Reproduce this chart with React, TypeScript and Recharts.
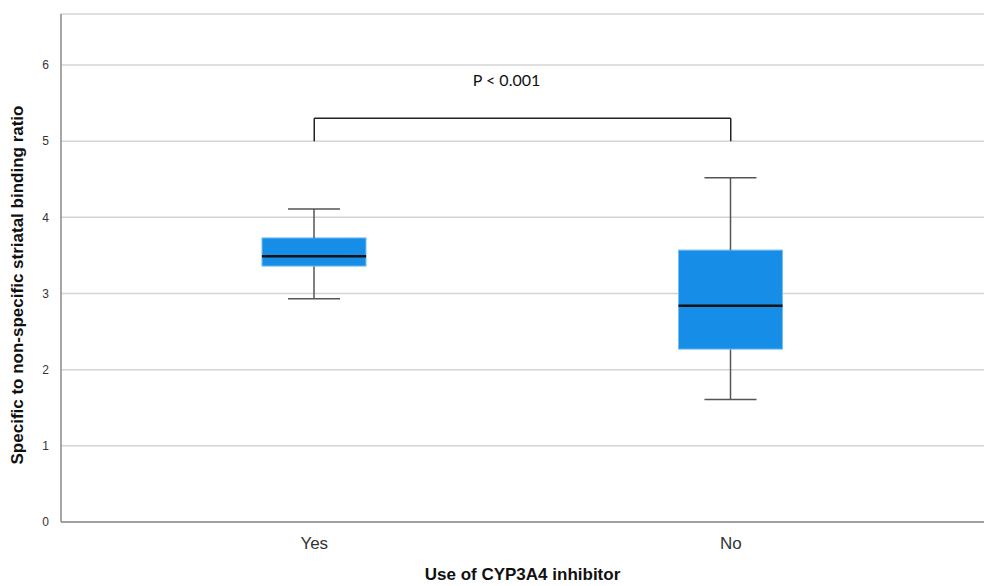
import { Bar, CartesianGrid, ComposedChart, ReferenceLine, XAxis, YAxis } from "recharts";

// box plot summary per group
const categories = ["Yes", "No"];
const whiskerLow = [2.93, 1.61];
const quartile1 = [3.36, 2.27];
const medians = [3.49, 2.84];
const quartile3 = [3.73, 3.57];
const whiskerHigh = [4.11, 4.52];

const yTicks = [0, 1, 2, 3, 4, 5, 6];
const bracketTop = 5.3;
const bracketFoot = 5.0;
const pLabel = "P < 0.001";

const BOX_FILL = "#168de6";
const BOX_EDGE = "#74bff2";
const WHISKER = "#555555";
const AXIS = "#8a8a8a";
const GRID = "#d4d4d4";
const FONT = "Liberation Sans, Arial, sans-serif";

// stacked pieces: invisible base, lower whisker, lower half box, upper half box, upper whisker
const data = categories.map((group, i) => ({
  group,
  base: whiskerLow[i],
  lowWhisker: quartile1[i] - whiskerLow[i],
  lowBox: medians[i] - quartile1[i],
  highBox: quartile3[i] - medians[i],
  highWhisker: whiskerHigh[i] - quartile3[i],
}));

const LowWhisker = (p: any) => {
  const cx = p.x + p.width / 2;
  const cap = p.width / 4;
  const bottom = p.y + p.height;
  return (
    <g>
      <line x1={cx} x2={cx} y1={p.y} y2={bottom} stroke={WHISKER} strokeWidth={1.5} />
      <line x1={cx - cap} x2={cx + cap} y1={bottom} y2={bottom} stroke={WHISKER} strokeWidth={1.5} />
    </g>
  );
};

const HighWhisker = (p: any) => {
  const cx = p.x + p.width / 2;
  const cap = p.width / 4;
  return (
    <g>
      <line x1={cx} x2={cx} y1={p.y} y2={p.y + p.height} stroke={WHISKER} strokeWidth={1.5} />
      <line x1={cx - cap} x2={cx + cap} y1={p.y} y2={p.y} stroke={WHISKER} strokeWidth={1.5} />
    </g>
  );
};

const LowBox = (p: any) => (
  <rect x={p.x} y={p.y} width={p.width} height={p.height} fill={BOX_FILL} stroke={BOX_EDGE} strokeWidth={1} />
);

const HighBox = (p: any) => {
  const bottom = p.y + p.height;
  return (
    <g>
      <rect x={p.x} y={p.y} width={p.width} height={p.height} fill={BOX_FILL} stroke={BOX_EDGE} strokeWidth={1} />
      <line x1={p.x} x2={p.x + p.width} y1={bottom} y2={bottom} stroke="#111" strokeWidth={2.5} />
    </g>
  );
};

export default function App() {
  return (
    <div style={{ position: "absolute", left: 0, top: 0, background: "#fff" }}>
      <ComposedChart
        width={984}
        height={586}
        data={data}
        margin={{ top: 14, right: 0, bottom: 0, left: 0 }}
        barGap={0}
      >
        <CartesianGrid horizontal vertical={false} stroke={GRID} strokeWidth={1.5} />
        <XAxis
          dataKey="group"
          height={64}
          padding={{ left: 45, right: 45 }}
          stroke={AXIS}
          strokeWidth={1.5}
          tickLine={false}
          tick={{ fontSize: 17, fill: "#333", fontFamily: FONT }}
          tickMargin={9}
          label={{
            value: "Use of CYP3A4 inhibitor",
            position: "insideBottom",
            offset: 0,
            dy: -6,
            style: { fontSize: 17, fontWeight: "bold", fill: "#111", fontFamily: FONT },
          }}
        />
        <YAxis
          width={61}
          domain={[0, 6.67]}
          ticks={yTicks}
          allowDataOverflow
          stroke={AXIS}
          strokeWidth={1.5}
          tickLine={false}
          tickMargin={6}
          tick={{ fontSize: 12, fill: "#333", fontFamily: FONT }}
          label={{
            value: "Specific to non-specific striatal binding ratio",
            angle: -90,
            position: "insideLeft",
            dx: 12,
            dy: 17,
            style: { textAnchor: "middle", fontSize: 17, fontWeight: "bold", fill: "#111", fontFamily: FONT },
          }}
        />
        <Bar dataKey="base" stackId="box" fill="transparent" barSize={104} isAnimationActive={false} />
        <Bar dataKey="lowWhisker" stackId="box" barSize={104} shape={LowWhisker} isAnimationActive={false} />
        <Bar dataKey="lowBox" stackId="box" barSize={104} shape={LowBox} isAnimationActive={false} />
        <Bar dataKey="highBox" stackId="box" barSize={104} shape={HighBox} isAnimationActive={false} />
        <Bar dataKey="highWhisker" stackId="box" barSize={104} shape={HighWhisker} isAnimationActive={false} />
        <ReferenceLine
          segment={[
            { x: categories[0], y: bracketTop },
            { x: categories[1], y: bracketTop },
          ]}
          stroke="#222"
          strokeWidth={1.5}
          label={{
            value: pLabel,
            position: "top",
            offset: 32,
            dx: -16,
            style: { fontSize: 16, fill: "#111", fontFamily: "Lato, Carlito, Liberation Sans, sans-serif" },
          }}
        />
        <ReferenceLine
          segment={[
            { x: categories[0], y: bracketFoot },
            { x: categories[0], y: bracketTop },
          ]}
          stroke="#222"
          strokeWidth={1.5}
        />
        <ReferenceLine
          segment={[
            { x: categories[1], y: bracketFoot },
            { x: categories[1], y: bracketTop },
          ]}
          stroke="#222"
          strokeWidth={1.5}
        />
      </ComposedChart>
    </div>
  );
}
